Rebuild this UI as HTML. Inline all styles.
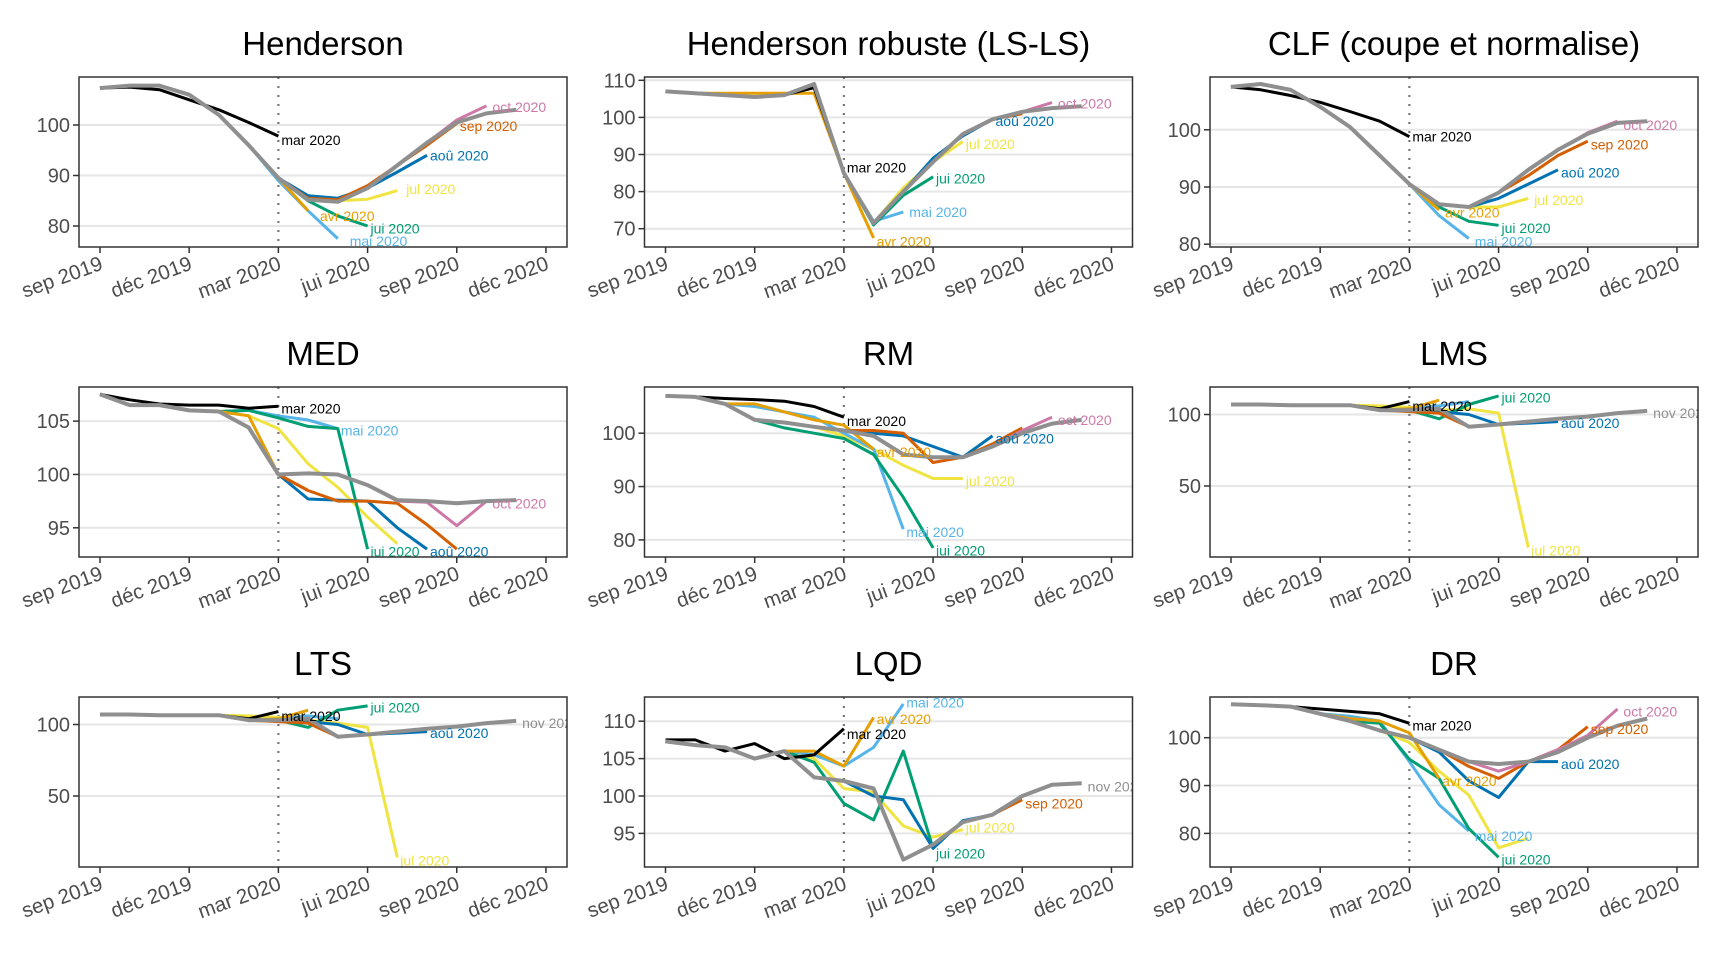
<!DOCTYPE html>
<html><head><meta charset="utf-8">
<style>
html,body{margin:0;padding:0;background:#fff;}
svg{display:block;font-family:"Liberation Sans",Arial,sans-serif;}
</style></head>
<body>
<svg id="s" width="1728" height="960" xmlns="http://www.w3.org/2000/svg"></svg>
<script>
const C={mar:'#000000',avr:'#E69F00',mai:'#56B4E9',jui:'#009E73',jul:'#F0E442',aou:'#0072B2',sep:'#D55E00',oct:'#CC79A7',nov:'#8f8f8f'};
const NAMES={mar:'mar 2020',avr:'avr 2020',mai:'mai 2020',jui:'jui 2020',jul:'jul 2020',aou:'aoû 2020',sep:'sep 2020',oct:'oct 2020',nov:'nov 2020'};
const END={mar:6,avr:7,mai:8,jui:9,jul:10,aou:11,sep:12,oct:13,nov:14};
const panels=[
{t:'Henderson',c:0,r:0,ref:100,ry:48,k:5.05,yt:[80,90,100],
 g:[107.3,107.8,107.8,106,102,96,89.5,85.2,84.8,87.5,92,96.5,100.5,102.3,103],
 s:{mar:{0:107.3,1:107.5,2:107,3:105,4:103,5:100.5,6:97.8},avr:{7:83},mai:{6:89,7:83,8:77.5},jui:{7:85,8:82,9:80},
 jul:{7:85.5,8:85,9:85.3,10:87},aou:{7:86,8:85.5,9:87.5,10:90.7,11:94},sep:{7:85.5,8:85.2,9:88,10:92,11:96,12:100.3},oct:{12:101,13:103.8}},
 lab:{mar:[6.1,97],avr:[7.4,82],mai:[8.4,77],jui:[9.1,79.5],jul:[10.3,87.3],aou:[11.1,94],sep:[12.1,99.8],oct:[13.2,103.6]},show:['mar','avr','mai','jui','jul','aou','sep','oct']},
{t:'Henderson robuste (LS-LS)',c:1,r:0,ref:110,ry:3.3,k:3.71,yt:[70,80,90,100,110],
 g:[107,106.5,106,105.5,106,109,85,71.5,80,88,95.5,99.5,101.5,102.5,103],
 s:{mar:{4:106,5:108,6:85},avr:{2:106.5,3:106.5,4:106.5,5:106.5,7:67.5},mai:{7:72,8:74.5},jui:{7:71,8:79,9:84},jul:{8:81,9:88,10:93.5},aou:{9:89,10:95,11:99.5},sep:{12:101},oct:{13:104}},
 lab:{mar:[6.1,86.5],avr:[7.1,66.5],mai:[8.2,74.5],jui:[9.1,83.5],jul:[10.1,92.8],aou:[11.1,99],sep:[12.1,101],oct:[13.2,103.7]},show:['mar','avr','mai','jui','jul','aou','oct']},
{t:'CLF (coupe et normalise)',c:2,r:0,ref:100,ry:52.8,k:5.72,yt:[80,90,100],
 g:[107.5,108,107,104,100.5,95.5,90.5,87,86.5,89,93,96.5,99.3,101.2,101.5],
 s:{mar:{1:107,2:106,3:104.8,4:103.2,5:101.5,6:98.8},avr:{7:86},mai:{7:85,8:81},jui:{7:86.5,8:84,9:83.3},jul:{8:86.5,9:86.5,10:88},aou:{9:88,10:90.5,11:93},sep:{10:92,11:95.5,12:98},oct:{12:99.5,13:101.5}},
 lab:{mar:[6.1,98.8],avr:[7.2,85.5],mai:[8.2,80.5],jui:[9.1,82.8],jul:[10.2,87.7],aou:[11.1,92.5],sep:[12.1,97.4],oct:[13.2,100.8]},show:['mar','avr','mai','jui','jul','aou','sep','oct']},
{t:'MED',c:0,r:1,ref:105,ry:34.1,k:10.67,yt:[95,100,105],
 g:[107.5,106.5,106.5,106,105.9,104.4,100,100.1,100,99,97.6,97.5,97.3,97.5,97.6],
 s:{mar:{1:107,2:106.6,3:106.5,4:106.5,5:106.2,6:106.4},avr:{5:105.5,6:100,7:98.5},mai:{5:106,6:105.5,7:105.1,8:104.3},jui:{5:106,6:105.3,7:104.5,8:104.3,9:93},jul:{5:105.5,6:104.3,7:101,8:98.8,9:96,10:93.5},aou:{6:100,7:97.7,8:97.6,9:97.5,10:95,11:93},sep:{7:98.5,8:97.5,9:97.5,10:97.3,11:95.3,12:93},oct:{10:97.5,11:97.4,12:95.2,13:97.5}},
 lab:{mar:[6.1,106.2],mai:[8.1,104.1],jui:[9.1,92.8],aou:[11.1,92.8],oct:[13.2,97.3]},show:['mar','mai','jui','aou','oct']},
{t:'RM',c:1,r:1,ref:100,ry:46.2,k:5.335,yt:[80,90,100],
 g:[107,106.8,105.5,102.5,102,101.2,100.5,99.5,96,95.5,95.5,97.5,100,101.8,102.5],
 s:{mar:{1:106.8,2:106.5,3:106.3,4:106,5:105,6:103},avr:{3:105.5,4:104,5:102.5,6:101.5,7:97},mai:{3:105,4:104,5:103,6:100,7:97,8:82},jui:{3:102.5,4:101,5:100,6:99,7:96,8:88,9:78.5},jul:{6:99.5,7:97,8:94,9:91.5,10:91.5},aou:{7:100,8:99.5,9:97.5,10:95.5,11:99.5},sep:{7:100.5,8:100,9:94.5,10:95.5,11:98,12:101},oct:{12:100.5,13:103}},
 lab:{mar:[6.1,102.3],avr:[7.1,96.5],mai:[8.1,81.5],jui:[9.1,78],jul:[10.1,91],aou:[11.1,99],oct:[13.2,102.5]},show:['mar','avr','mai','jui','jul','aou','oct']},
{t:'LMS',c:2,r:1,ref:100,ry:27.5,k:1.43,yt:[50,100],
 g:[107,107,106.5,106.5,106.5,103,103,104,91.5,93,95,97,98.5,101,102.5],
 s:{mar:{5:104,6:109},avr:{6:104,7:110},mai:{6:104,7:106,8:109},jui:{6:103,7:97,8:107,9:113},jul:{5:106,6:105,7:103,8:104,9:101,10:7},aou:{6:103,7:102,8:100,9:93,10:94,11:95},sep:{6:102,7:101,8:91.5}},
 lab:{mar:[6.1,106],jui:[9.1,112],jul:[10.1,5],aou:[11.1,94],nov:[14.2,101]},show:['mar','jui','jul','aou','nov']},
{t:'LTS',c:0,r:2,ref:100,ry:27.5,k:1.43,yt:[50,100],
 g:[107,107,106.5,106.5,106.5,103,103,104,91.5,93,95,97,98.5,101,102.5],
 s:{mar:{5:104,6:109},avr:{6:104,7:110},mai:{6:104,7:106,8:104},jui:{6:103,7:98,8:110,9:113},jul:{5:106,6:105,7:103,8:101,9:98,10:7},aou:{6:103,7:102,8:100,9:93,10:94,11:95},sep:{6:102,7:101,8:91.5}},
 lab:{mar:[6.1,106],jui:[9.1,112],jul:[10.1,5],aou:[11.1,94],nov:[14.2,101]},show:['mar','jui','jul','aou','nov']},
{t:'LQD',c:1,r:2,ref:110,ry:24.2,k:7.48,yt:[95,100,105,110],
 g:[107.3,106.8,106.5,105,106,102.5,102,101,91.5,93.5,96.5,97.5,100,101.5,101.7],
 s:{mar:{0:107.5,1:107.5,2:106,3:107,4:105,5:105.5,6:109},avr:{5:106,6:104,7:110.5},mai:{5:105.5,6:104,7:106.5,8:112.3},jui:{5:104.5,6:99,7:96.8,8:106,9:93},jul:{5:105,6:101,7:100.5,8:96,9:94.5,10:95.5},aou:{7:100,8:99.5,9:93,10:96.7,11:97.5},sep:{11:97.5,12:99.5},oct:{12:100,13:101.5}},
 lab:{mar:[6.1,108.3],avr:[7.1,110.3],mai:[8.1,112.5],jui:[9.1,92.3],jul:[10.1,95.8],sep:[12.1,99],nov:[14.2,101.3]},show:['mar','avr','mai','jui','jul','sep','nov']},
{t:'DR',c:2,r:2,ref:100,ry:40.7,k:4.785,yt:[80,90,100],
 g:[107,106.8,106.5,105,103.5,101.5,100,97.5,95,94.5,95,97,100,102.5,104],
 s:{mar:{3:106,4:105.5,5:105,6:103},avr:{4:104,5:103.5,6:101,7:91.5},mai:{4:104.5,5:103.5,6:95,7:86,8:80.5},jui:{5:103,6:95.5,7:91.5,8:81,9:75},jul:{6:99,7:93,8:88,9:77,10:79},aou:{7:97,8:91,9:87.5,10:95,11:95},sep:{8:94,9:91.5,10:95,11:97.5,12:102.3},oct:{9:93,10:95,11:97.5,12:100.5,13:106}},
 lab:{mar:[6.1,102.5],avr:[7.1,91],mai:[8.2,79.5],jui:[9.1,74.5],aou:[11.1,94.5],sep:[12.1,101.8],oct:[13.2,105.5]},show:['mar','avr','mai','jui','aou','sep','oct']}
];
const W=488,H=170,LX=[79,644.5,1210],TY=[77,387,697];
const xt=['sep 2019','déc 2019','mar 2020','jui 2020','sep 2020','déc 2020'];
let o='';
panels.forEach((p,pi)=>{
 const L=LX[p.c],T=TY[p.r];
 const X=i=>L+21+i*29.73, Y=v=>T+p.ry+(p.ref-v)*p.k;
 o+=`<text x="${L+W/2}" y="${T-22}" font-size="33" text-anchor="middle" fill="#000">${p.t}</text>`;
 o+=`<clipPath id="c${pi}"><rect x="${L}" y="${T}" width="${W}" height="${H}"/></clipPath>`;
 p.yt.forEach(v=>{const y=Y(v);
  o+=`<line x1="${L}" x2="${L+W}" y1="${y}" y2="${y}" stroke="#e6e6e6" stroke-width="2"/>`;
  o+=`<line x1="${L-6}" x2="${L}" y1="${y}" y2="${y}" stroke="#333" stroke-width="1.5"/>`;
  o+=`<text x="${L-9}" y="${y+7}" font-size="20" text-anchor="end" fill="#4d4d4d">${v}</text>`;});
 xt.forEach((s,j)=>{const x=X(j*3);
  o+=`<line x1="${x}" x2="${x}" y1="${T+H}" y2="${T+H+6}" stroke="#333" stroke-width="1.5"/>`;
  o+=`<text transform="translate(${x+4},${T+H+22}) rotate(-20)" font-size="20.5" text-anchor="end" fill="#4d4d4d">${s}</text>`;});
 o+=`<g clip-path="url(#c${pi})">`;
 o+=`<line x1="${X(6)}" x2="${X(6)}" y1="${T}" y2="${T+H}" stroke="#777" stroke-width="2.2" stroke-dasharray="2,7"/>`;
 const order=['mar','avr','mai','jui','jul','aou','sep','oct'];
 const ser={};
 order.forEach(n=>{const e=END[n],ov=p.s[n]||{};const pts=[];
  for(let i=0;i<=e;i++){const v=(ov[i]!==undefined)?ov[i]:p.g[i];pts.push([i,v]);}
  ser[n]=pts;});
 ser.nov=p.g.map((v,i)=>[i,v]);
 ['jul','mai','jui','avr','aou','sep','oct','mar','nov'].forEach(n=>{
  o+=`<polyline fill="none" stroke="${C[n]}" stroke-width="${n=='nov'?4:3}" stroke-linejoin="round" points="${ser[n].map(q=>X(q[0]).toFixed(1)+','+Y(q[1]).toFixed(1)).join(' ')}"/>`;});
 p.show.forEach(n=>{const q=p.lab[n];
  o+=`<text x="${X(q[0])}" y="${Y(q[1])+5}" font-size="14" fill="${C[n]}">${NAMES[n]}</text>`;});
 o+=`</g>`;
 o+=`<rect x="${L}" y="${T}" width="${W}" height="${H}" fill="none" stroke="#333" stroke-width="1.5"/>`;
});
document.getElementById('s').innerHTML=o;
</script>
</body></html>
